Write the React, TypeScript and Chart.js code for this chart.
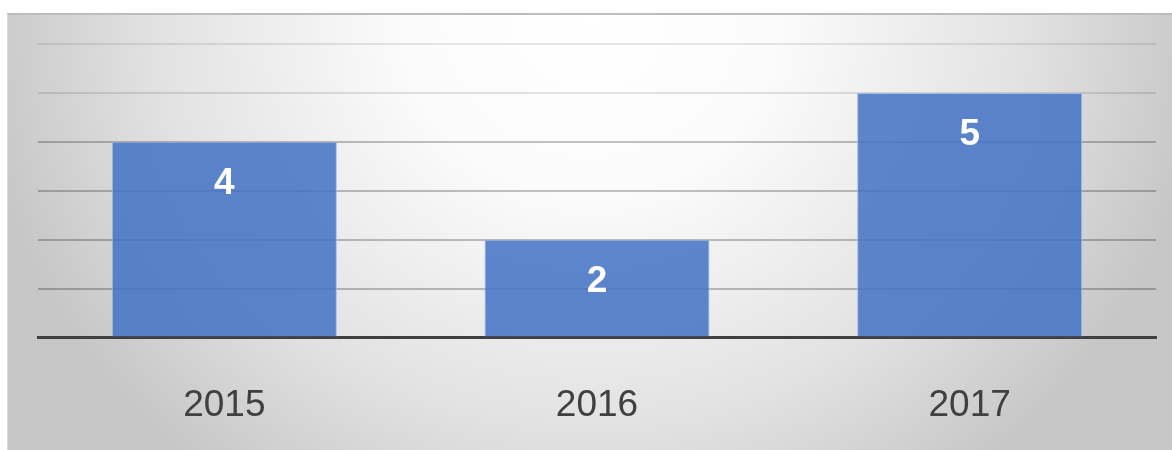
import React, { useEffect, useRef } from "react";
import { Chart, registerables } from "chart.js";

Chart.register(...registerables);

const categories = ["2015", "2016", "2017"];
const values = [4, 2, 5];
const yMax = 6;
const yStep = 1;

const W = 1172;
const H = 450;

const backgroundPlugin = {
  id: "bgPanel",
  beforeDraw(chart: any) {
    const ctx = chart.ctx;
    ctx.save();
    ctx.fillStyle = "#ffffff";
    ctx.fillRect(0, 0, W, H);
    const fx = 7;
    const fy = 14;
    // elliptical radial gradient
    const cx = 590;
    const cy = 20;
    const rx = 620;
    const ry = 580;
    ctx.save();
    ctx.beginPath();
    ctx.rect(fx, fy, W - fx, H - fy);
    ctx.clip();
    ctx.translate(cx, cy);
    ctx.scale(1, ry / rx);
    const g = ctx.createRadialGradient(0, 0, 0, 0, 0, rx);
    g.addColorStop(0, "#ffffff");
    g.addColorStop(0.3, "#fbfbfb");
    g.addColorStop(0.7, "#e2e2e2");
    g.addColorStop(1, "#c6c6c6");
    ctx.fillStyle = g;
    ctx.fillRect(-cx, -cy * (rx / ry), W * 2, H * 2 * (rx / ry));
    ctx.restore();
    // top frame line
    ctx.fillStyle = "#bdbdbd";
    ctx.fillRect(fx, 13, W - fx, 2);
    // left frame edge
    ctx.fillStyle = "#dadada";
    ctx.fillRect(fx, fy, 1, H - fy);
    ctx.restore();
  },
};

const labelPlugin = {
  id: "barValueLabels",
  afterDatasetsDraw(chart: any) {
    const ctx = chart.ctx;
    const meta = chart.getDatasetMeta(0);
    ctx.save();
    ctx.fillStyle = "#ffffff";
    ctx.font = "bold 37px 'Liberation Sans', Arial, sans-serif";
    ctx.textAlign = "center";
    ctx.textBaseline = "middle";
    meta.data.forEach((bar: any, i: number) => {
      ctx.fillText(String(values[i]), bar.x, bar.y + 42);
    });
    ctx.restore();
  },
};

export default function App() {
  const ref = useRef<HTMLCanvasElement | null>(null);

  useEffect(() => {
    if (!ref.current) return;
    const chart = new Chart(ref.current, {
      type: "bar",
      data: {
        labels: categories,
        datasets: [
          {
            data: values,
            backgroundColor: "rgba(68,114,196,0.86)",
            borderColor: "rgba(160,184,228,0.9)",
            borderWidth: 1,
            categoryPercentage: 1,
            barPercentage: 0.604,
          },
        ],
      },
      options: {
        responsive: false,
        animation: false,
        devicePixelRatio: 1,
        layout: { padding: { left: 38, right: 16, top: 44, bottom: -24 } },
        plugins: {
          legend: { display: false },
          tooltip: { enabled: false },
          title: { display: false },
        },
        scales: {
          x: {
            grid: { display: false, drawTicks: false },
            border: { display: true, color: "#404040", width: 3 },
            ticks: {
              color: "#404040",
              font: { family: "'Liberation Sans', Arial, sans-serif", size: 37 },
              padding: 46,
            },
          },
          y: {
            min: 0,
            max: yMax,
            ticks: { display: false, stepSize: yStep },
            border: { display: false },
            grid: {
              drawTicks: false,
              lineWidth: 2,
              color: (c: any) => {
                const v = c.tick ? c.tick.value : 0;
                if (v === 0) return "rgba(0,0,0,0)";
                if (v >= 6) return "rgba(0,0,0,0.09)";
                if (v >= 5) return "rgba(0,0,0,0.11)";
                return "rgba(0,0,0,0.24)";
              },
            },
          },
        },
      },
      plugins: [backgroundPlugin, labelPlugin],
    });
    return () => chart.destroy();
  }, []);

  return (
    <div style={{ position: "fixed", left: 0, top: 0, width: W, height: H }}>
      <canvas ref={ref} width={W} height={H} style={{ display: "block" }} />
    </div>
  );
}
